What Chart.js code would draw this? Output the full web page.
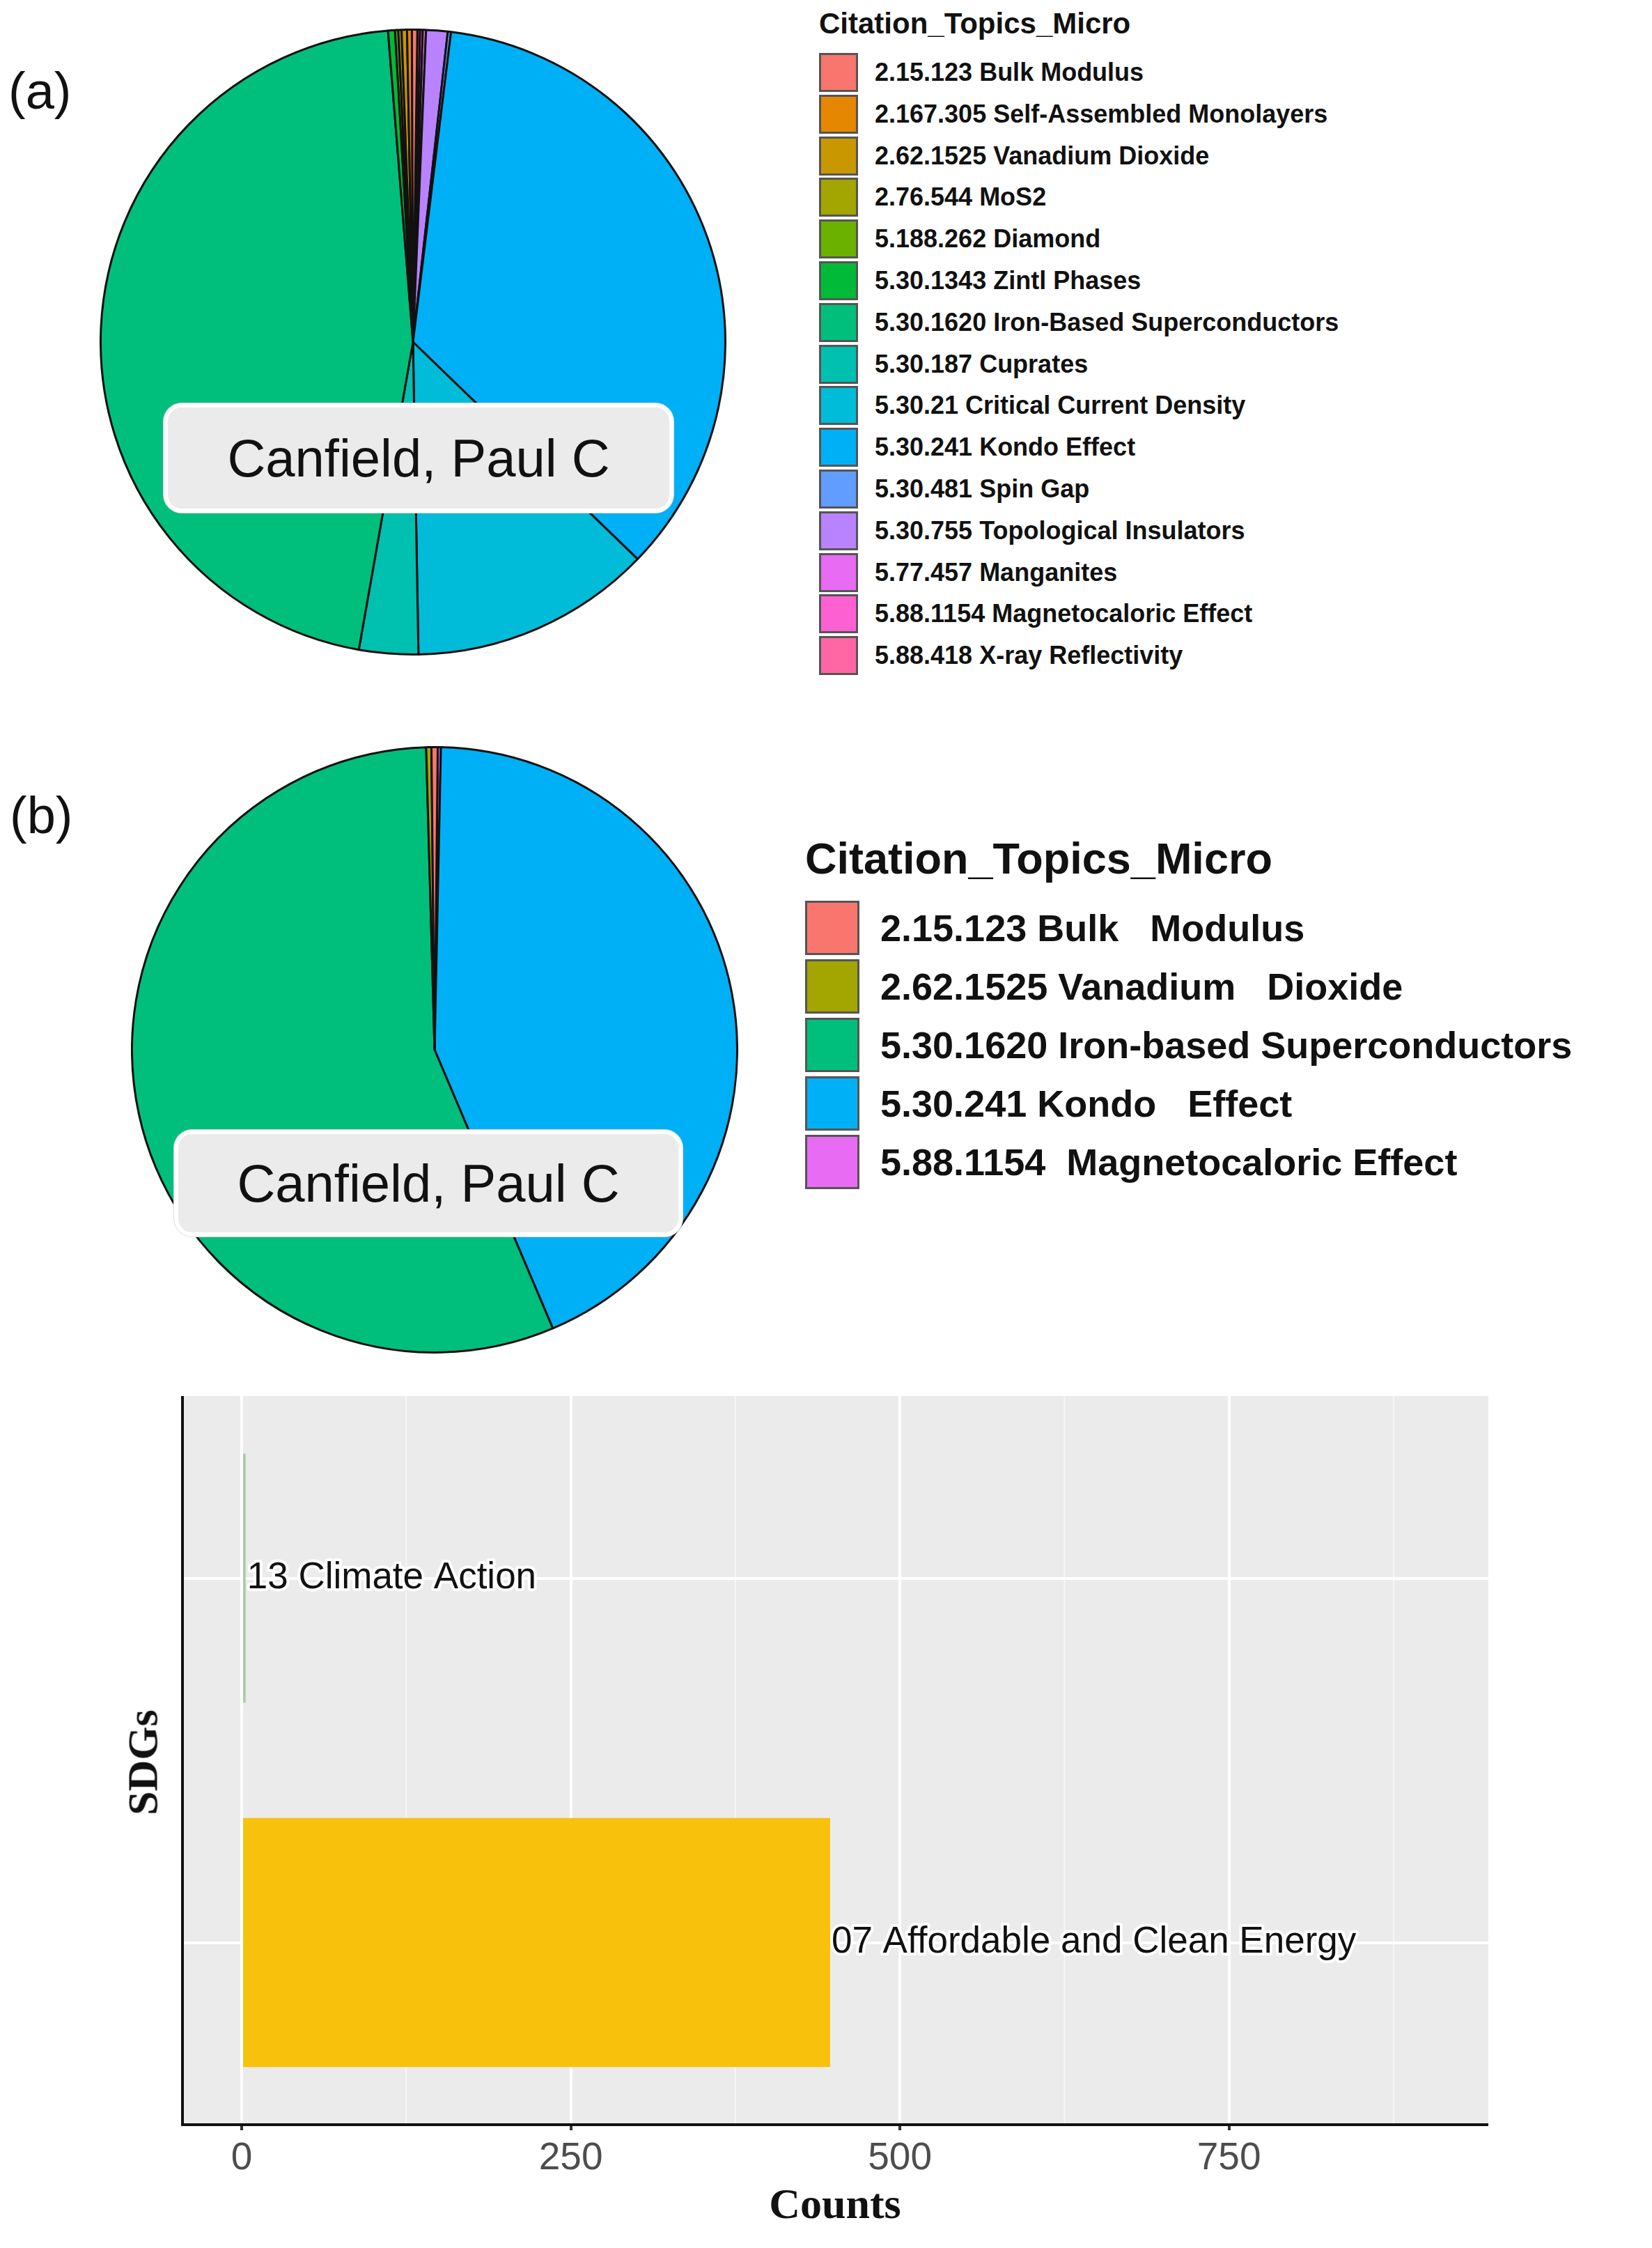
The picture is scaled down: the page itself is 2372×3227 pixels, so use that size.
<!DOCTYPE html>
<html>
<head>
<meta charset="utf-8">
<script src="https://cdn.jsdelivr.net/npm/chart.js@4"></script>
<style>
body { margin: 0; background: #fff; width: 2372px; height: 3227px; position: relative; overflow: hidden; font-family: "Liberation Sans", Arial, sans-serif; }
.abs { position: absolute; }
.panel { font-size: 74px; color: #111; }
.namebox { background: #ebebeb; border: 6px solid #fff; border-radius: 26px; box-sizing: border-box; display: flex; align-items: center; justify-content: center; font-size: 76px; color: #111; box-shadow: 0 0 0 1px #ddd; }
.leg-title { font-weight: bold; color: #111; }
.leg-row { display: flex; align-items: center; font-weight: bold; color: #111; position: absolute; white-space: pre; }
.sw { border: 3px solid #555; box-sizing: border-box; }
</style>
</head>
<body>
<div class="abs panel" style="left:12px;top:88px;">(a)</div>
<div class="abs panel" style="left:14px;top:1128px;">(b)</div>

<div class="abs" style="left:143px;top:41px;width:900px;height:900px;"><canvas id="pieA"></canvas></div>
<div class="abs" style="left:188px;top:1071px;width:872px;height:872px;"><canvas id="pieB"></canvas></div>

<div class="abs namebox" style="left:235px;top:579px;width:732px;height:157px;">Canfield, Paul C</div>
<div class="abs namebox" style="left:250px;top:1622px;width:730px;height:153px;">Canfield, Paul C</div>

<div id="legA"></div>
<div id="legB"></div>

<div class="abs" style="left:200px;top:1990px;width:1960px;height:1150px;"><canvas id="bars"></canvas></div>
<div class="abs" style="left:0;top:3128px;width:2398px;text-align:center;font-family:'Liberation Serif',serif;font-weight:bold;font-size:62px;color:#111;">Counts</div>
<div class="abs" style="left:205px;top:2530px;transform:translate(-50%,-50%) rotate(-90deg);font-family:'Liberation Serif',serif;font-weight:bold;font-size:62px;color:#111;">SDGs</div>

<script>
// panel (a) topics, legend order
const topicsA = ['2.15.123 Bulk Modulus', '2.167.305 Self-Assembled Monolayers', '2.62.1525 Vanadium Dioxide',
  '2.76.544 MoS2', '5.188.262 Diamond', '5.30.1343 Zintl Phases', '5.30.1620 Iron-Based Superconductors',
  '5.30.187 Cuprates', '5.30.21 Critical Current Density', '5.30.241 Kondo Effect', '5.30.481 Spin Gap',
  '5.30.755 Topological Insulators', '5.77.457 Manganites', '5.88.1154 Magnetocaloric Effect', '5.88.418 X-ray Reflectivity'];
const sharesA = [1, 0.9, 1, 0.6, 0.6, 1.3, 165.4, 11, 45, 127, 0.6, 4, 0.6, 0.5, 0.5];
const colorsA = ['#F8766D', '#E58700', '#C99800', '#A3A500', '#6BB100', '#00BA38', '#00BF7D', '#00C0AF',
  '#00BCD8', '#00B0F6', '#619CFF', '#B983FF', '#E76BF3', '#FD61D1', '#FF67A4'];

// panel (b) topics
const topicsB = ['2.15.123 Bulk   Modulus', '2.62.1525 Vanadium   Dioxide', '5.30.1620 Iron-based Superconductors',
  '5.30.241 Kondo   Effect', '5.88.1154  Magnetocaloric Effect'];
const sharesB = [1.2, 1, 201.4, 155.8, 0.6];
const colorsB = ['#F8766D', '#A3A500', '#00BF7D', '#00B0F6', '#E76BF3'];

// SDG bars
const sdgs = ['13 Climate Action', '07 Affordable and Clean Energy'];
const counts = [3, 447];
const barColors = ['#a9cba6', '#f8c10c'];
const xTicks = [0, 250, 500, 750];

function makeLegend(id, title, names, colors, o) {
  const box = document.getElementById(id);
  let html = `<div class="abs leg-title" style="left:${o.x}px;top:${o.titleY}px;font-size:${o.titleSize}px;">Citation_Topics_Micro</div>`;
  names.forEach((n, i) => {
    const y = o.y0 + i * o.step;
    html += `<div class="leg-row" style="left:${o.x}px;top:${y - o.sw / 2}px;height:${o.sw}px;font-size:${o.size}px;">` +
      `<div class="sw" style="width:${o.sw}px;height:${o.sw}px;background:${colors[i]};"></div>` +
      `<span style="margin-left:${o.gap}px;">${n}</span></div>`;
  });
  box.innerHTML = html;
}
makeLegend('legA', 'Citation_Topics_Micro', topicsA, colorsA,
  { x: 1176, titleY: 10, titleSize: 42, y0: 104, step: 59.8, sw: 56, size: 36, gap: 24 });
makeLegend('legB', 'Citation_Topics_Micro', topicsB, colorsB,
  { x: 1156, titleY: 1196, titleSize: 63, y0: 1332, step: 84, sw: 78, size: 54, gap: 30 });

function pie(id, shares, colors, rot) {
  // ggplot draws these clockwise in reverse legend order
  new Chart(document.getElementById(id), {
    type: 'pie',
    data: {
      labels: shares.map((_, i) => i).reverse(),
      datasets: [{
        data: shares.slice().reverse(),
        backgroundColor: colors.slice().reverse(),
        borderColor: '#111',
        borderWidth: 3
      }]
    },
    options: {
      animation: false,
      responsive: true,
      maintainAspectRatio: false,
      rotation: rot,
      plugins: { legend: { display: false }, tooltip: { enabled: false } }
    }
  });
}
pie('pieA', sharesA, colorsA, 0.8);
pie('pieB', sharesB, colorsB, 0.6);

const barLabels = {
  id: 'barLabels',
  afterDatasetsDraw(chart) {
    const ctx = chart.ctx;
    const meta = chart.getDatasetMeta(0);
    ctx.save();
    ctx.font = '53px "Liberation Sans", Arial, sans-serif';
    ctx.textBaseline = 'middle';
    ctx.lineJoin = 'round';
    meta.data.forEach((bar, i) => {
      ctx.lineWidth = 8;
      ctx.strokeStyle = '#fff';
      ctx.strokeText(sdgs[i], bar.x + 2, bar.y);
      ctx.fillStyle = '#111';
      ctx.fillText(sdgs[i], bar.x + 2, bar.y);
    });
    ctx.restore();
  }
};
const panelBg = {
  id: 'panelBg',
  beforeDraw(chart) {
    const a = chart.chartArea;
    chart.ctx.save();
    chart.ctx.fillStyle = '#ebebeb';
    chart.ctx.fillRect(a.left, a.top, a.right - a.left, a.bottom - a.top);
    // minor vertical grid lines
    const xs = chart.scales.x;
    chart.ctx.strokeStyle = '#f6f6f6';
    chart.ctx.lineWidth = 2;
    [125, 375, 625, 875].forEach(v => {
      const px = xs.getPixelForValue(v);
      chart.ctx.beginPath(); chart.ctx.moveTo(px, a.top); chart.ctx.lineTo(px, a.bottom); chart.ctx.stroke();
    });
    chart.ctx.restore();
  },
  afterDraw(chart) {
    const a = chart.chartArea, ctx = chart.ctx;
    ctx.save();
    ctx.strokeStyle = '#111';
    ctx.lineWidth = 4;
    ctx.beginPath(); ctx.moveTo(a.left, a.top); ctx.lineTo(a.left, a.bottom); ctx.lineTo(a.right, a.bottom); ctx.stroke();
    ctx.restore();
  }
};

new Chart(document.getElementById('bars'), {
  type: 'bar',
  data: {
    labels: sdgs,
    datasets: [{ data: counts, backgroundColor: barColors, barPercentage: 0.9, categoryPercentage: 0.76 }]
  },
  options: {
    indexAxis: 'y',
    animation: false,
    responsive: true,
    maintainAspectRatio: false,
    layout: { padding: { left: 62, right: 23, top: 14, bottom: 0 } },
    plugins: { legend: { display: false }, tooltip: { enabled: false } },
    scales: {
      x: {
        min: -45, max: 947,
        afterBuildTicks: s => { s.ticks = xTicks.map(v => ({ value: v })); },
        ticks: { color: '#4d4d4d', font: { size: 55, family: '"Liberation Sans", Arial' }, padding: 8 },
        grid: { color: '#fff', lineWidth: 4, tickLength: 8, tickColor: '#333', drawOnChartArea: true },
        border: { display: false }
      },
      y: {
        ticks: { display: false },
        grid: { color: '#fff', lineWidth: 4, offset: false, drawTicks: false },
        border: { display: false }
      }
    }
  },
  plugins: [panelBg, barLabels]
});
</script>
</body>
</html>
